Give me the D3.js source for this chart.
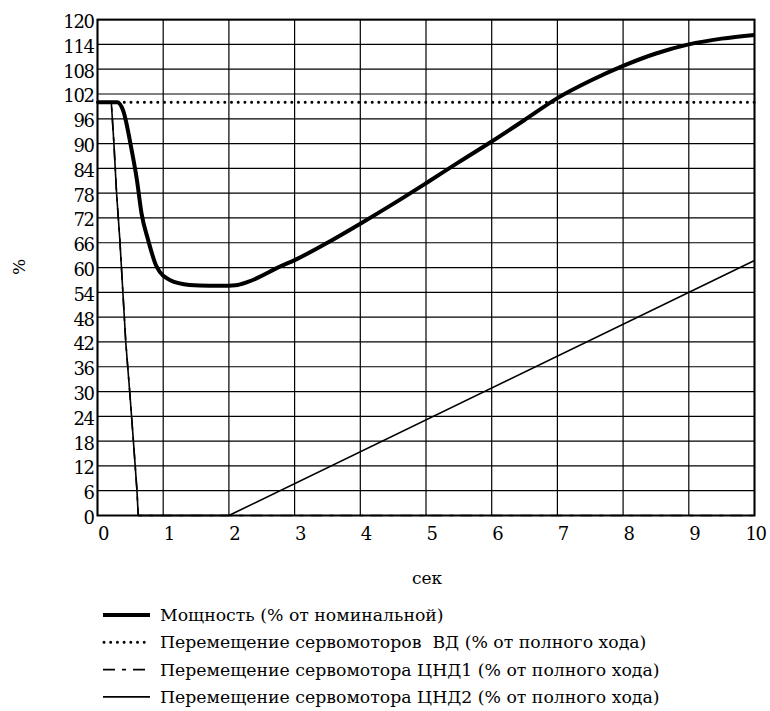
<!DOCTYPE html>
<meta charset="utf-8">
<style>
  body { margin: 0; background: #fff; }
  svg text { font-family: "DejaVu Serif", serif; }
</style>
<script src="https://d3js.org/d3.v7.min.js"></script>
<svg id="chart" width="770" height="711"></svg>
<script>

  // time, seconds
  var powerT = [0, 0.3, 0.39, 0.52, 0.6, 0.67, 0.77, 0.9, 1.1, 1.4, 1.7, 2.0, 2.1, 2.3, 2.8, 3, 3.5, 4, 4.5, 5, 5.5, 6, 6.5, 7, 7.5, 8, 8.5, 9, 9.5, 10]
  var powerV = [100, 100, 98, 88.4, 81.2, 73.1, 66.7, 60.2, 57, 55.8, 55.6, 55.6, 55.7, 56.6, 60.4, 61.8, 66.0, 70.6, 75.4, 80.4, 85.5, 90.5, 95.7, 101, 105.2, 108.8, 111.8, 114, 115.4, 116.3]

  var vdT = [0, 10]
  var vdV = [100, 100]

  var cnd1T = [0, 0.21, 0.25, 0.29, 0.34, 0.39, 0.43, 0.49, 0.545, 0.6, 0.62, 10]
  var cnd1V = [100, 100, 90, 78, 66.7, 53, 42, 30, 18.3, 6.2, 0, 0]

  var cnd2T = [0, 0.21, 0.25, 0.29, 0.34, 0.39, 0.43, 0.49, 0.545, 0.6, 0.62, 2, 10]
  var cnd2V = [100, 100, 90, 78, 66.7, 53, 42, 30, 18.3, 6.2, 0, 0, 61.7]

  var xTicks = [0, 1, 2, 3, 4, 5, 6, 7, 8, 9, 10]
  var yTicks = [0, 6, 12, 18, 24, 30, 36, 42, 48, 54, 60, 66, 72, 78, 84, 90, 96, 102, 108, 114, 120]

  var legendLabels = [
    "Мощность (% от номинальной)",
    "Перемещение сервомоторов  ВД (% от полного хода)",
    "Перемещение сервомотора ЦНД1 (% от полного хода)",
    "Перемещение сервомотора ЦНД2 (% от полного хода)"
  ]

  var svg = d3.select("#chart")

  var x = d3.scaleLinear().domain([0, 10]).range([97.5, 754.5])
  var y = d3.scaleLinear().domain([0, 120]).range([515.5, 19.6])

  // grid
  svg.append("g")
    .selectAll("line")
    .data(xTicks)
    .enter()
    .append("line")
      .attr("x1", d => x(d)).attr("x2", d => x(d))
      .attr("y1", y(0)).attr("y2", y(120))
      .attr("stroke", "#000").attr("stroke-width", 1.2)

  svg.append("g")
    .selectAll("line")
    .data(yTicks)
    .enter()
    .append("line")
      .attr("x1", x(0)).attr("x2", x(10))
      .attr("y1", d => y(d)).attr("y2", d => y(d))
      .attr("stroke", "#000").attr("stroke-width", 1.2)

  // frame
  svg.append("rect")
    .attr("x", x(0)).attr("y", y(120))
    .attr("width", x(10) - x(0)).attr("height", y(0) - y(120))
    .attr("fill", "none").attr("stroke", "#000").attr("stroke-width", 2)

  // tick labels
  svg.append("g")
    .selectAll("text")
    .data(yTicks)
    .enter()
    .append("text")
      .attr("x", 93.5)
      .attr("y", d => y(d) + 8.5)
      .attr("text-anchor", "end")
      .style("font-size", "18px")
      .style("letter-spacing", "-1.4px")
      .text(d => d)

  svg.append("g")
    .selectAll("text")
    .data(xTicks)
    .enter()
    .append("text")
      .attr("x", d => x(d) + (d < 10 ? 5.5 : 1))
      .attr("y", 540)
      .attr("text-anchor", "middle")
      .style("font-size", "18px")
      .style("letter-spacing", "-1.4px")
      .text(d => d)

  // axis titles
  svg.append("text")
    .attr("x", 427).attr("y", 584)
    .attr("text-anchor", "middle")
    .style("font-size", "17px")
    .text("сек")

  svg.append("text")
    .attr("transform", "translate(25,267) rotate(-90)")
    .attr("text-anchor", "middle")
    .style("font-size", "17px")
    .text("%")

  var line = d3.line()
    .x(d => x(d[0]))
    .y(d => y(d[1]))

  var series = [
    { t: cnd1T, v: cnd1V, w: 1.6, dash: "12,7,4,7", cap: "butt", curve: d3.curveLinear },
    { t: cnd2T, v: cnd2V, w: 1.6, dash: null, cap: "butt", curve: d3.curveLinear },
    { t: vdT, v: vdV, w: 3, dash: "0,6.7", cap: "round", curve: d3.curveLinear },
    { t: powerT, v: powerV, w: 4, dash: null, cap: "butt", curve: d3.curveMonotoneX }
  ]

  series.forEach(function(s) {
    svg.append("path")
      .datum(d3.zip(s.t, s.v))
      .attr("d", line.curve(s.curve))
      .attr("fill", "none")
      .attr("stroke", "#000")
      .attr("stroke-width", s.w)
      .attr("stroke-linecap", s.cap)
      .attr("stroke-linejoin", "round")
      .attr("stroke-dasharray", s.dash)
  })

  // legend
  var legendStyle = [
    { w: 4, dash: null, cap: "butt" },
    { w: 3, dash: "0,6.7", cap: "round" },
    { w: 1.6, dash: "12,7,4,7", cap: "butt" },
    { w: 1.6, dash: null, cap: "butt" }
  ]

  var legend = svg.append("g")
    .selectAll("g")
    .data(legendLabels)
    .enter()
    .append("g")
      .attr("transform", (d, i) => "translate(0," + (615 + i * 27.3) + ")")

  legend.append("line")
    .attr("x1", (d, i) => i == 1 ? 104 : 103).attr("x2", 150)
    .attr("y1", 0).attr("y2", 0)
    .attr("stroke", "#000")
    .attr("stroke-width", (d, i) => legendStyle[i].w)
    .attr("stroke-linecap", (d, i) => legendStyle[i].cap)
    .attr("stroke-dasharray", (d, i) => legendStyle[i].dash)

  legend.append("text")
    .attr("x", 160)
    .attr("y", 6)
    .style("font-size", "17.3px")
    .style("white-space", "pre")
    .text(d => d)

</script>
